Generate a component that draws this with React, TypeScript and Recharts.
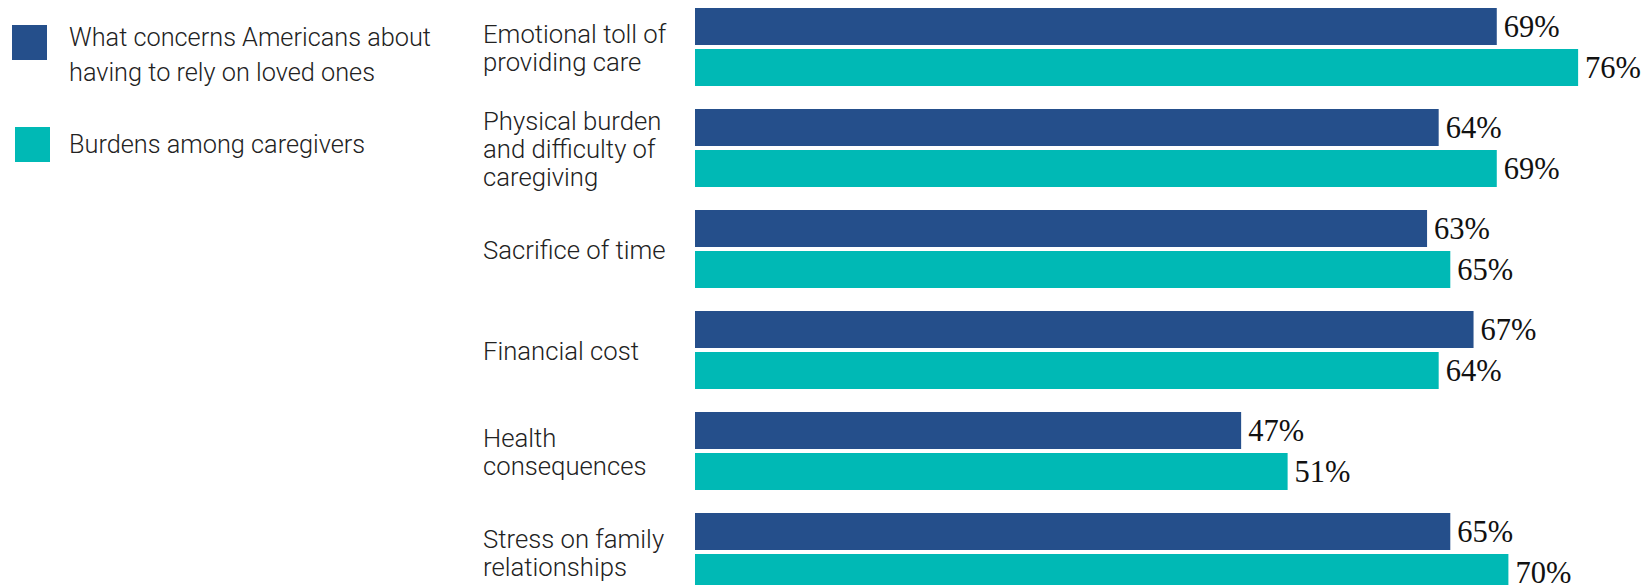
import React from "react";
import { BarChart, Bar, XAxis, YAxis, LabelList } from "recharts";

const categories = [
  "Emotional toll of providing care",
  "Physical burden and difficulty of caregiving",
  "Sacrifice of time",
  "Financial cost",
  "Health consequences",
  "Stress on family relationships",
];
const categoryLines: string[][] = [
  ["Emotional toll of", "providing care"],
  ["Physical burden", "and difficulty of", "caregiving"],
  ["Sacrifice of time"],
  ["Financial cost"],
  ["Health", "consequences"],
  ["Stress on family", "relationships"],
];
const concerns = [69, 64, 63, 67, 47, 65];
const burdens = [76, 69, 65, 64, 51, 70];
const seriesNames = [
  "What concerns Americans about having to rely on loved ones",
  "Burdens among caregivers",
];
const legendLines: string[][] = [
  ["What concerns Americans about", "having to rely on loved ones"],
  ["Burdens among caregivers"],
];

const BLUE = "#254f8b";
const TEAL = "#00b9b5";
const colors = [BLUE, TEAL];

const data = categories.map((c, i) => ({
  category: c,
  concerns: concerns[i],
  burdens: burdens[i],
}));

const CategoryTick = (props: any) => {
  const { y, index } = props;
  const lines = categoryLines[index] || [props.payload.value];
  const n = lines.length;
  return (
    <text
      x={483}
      y={y}
      textAnchor="start"
      fill="#222"
      style={{ fontFamily: "Roboto", fontWeight: 300, fontSize: 25.7 }}
    >
      {lines.map((l, i) => (
        <tspan key={i} x={483} y={y + (i - (n - 1) / 2) * 28 + 10}>
          {l}
        </tspan>
      ))}
    </text>
  );
};

const labelFmt = (v: any) => `${v}%`;
const labelStyle = { fontFamily: "Liberation Serif", fontSize: 30.5, fill: "#111" };

export default function App() {
  return (
    <div
      style={{
        position: "absolute",
        top: 0,
        left: 0,
        width: 1649,
        height: 585,
        overflow: "hidden",
        background: "#fff",
      }}
    >
      <div style={{ position: "absolute", left: 0, top: 0, width: 440 }}>
        {legendLines.map((lines, i) => (
          <div
            key={i}
            style={{
              position: "absolute",
              left: i === 0 ? 12 : 15,
              top: i === 0 ? 25 : 127,
              display: "flex",
              alignItems: "flex-start",
            }}
          >
            <div
              title={seriesNames[i]}
              style={{ width: 35, height: 35, background: colors[i], flex: "none" }}
            />
            <div
              style={{
                marginLeft: i === 0 ? 22 : 19,
                marginTop: i === 0 ? -5 : 0,
                fontFamily: "Roboto",
                fontWeight: 300,
                fontSize: 25.3,
                lineHeight: "35px",
                color: "#222",
                whiteSpace: "nowrap",
              }}
            >
              {lines.map((l, j) => (
                <div key={j}>{l}</div>
              ))}
            </div>
          </div>
        ))}
      </div>
      <div style={{ position: "absolute", left: 0, top: -4 }}>
        <BarChart
          width={1649}
          height={606}
          data={data}
          layout="vertical"
          margin={{ top: 0, right: 24.4, bottom: 0, left: 0 }}
          barGap={4}
          barSize={37}
        >
          <XAxis type="number" domain={[0, 80]} hide />
          <YAxis
            type="category"
            dataKey="category"
            width={695}
            axisLine={false}
            tickLine={false}
            tick={<CategoryTick />}
            interval={0}
          />
          <Bar dataKey="concerns" name={seriesNames[0]} fill={BLUE} isAnimationActive={false}>
            <LabelList
              dataKey="concerns"
              position="right"
              offset={7}
              formatter={labelFmt}
              style={labelStyle}
            />
          </Bar>
          <Bar dataKey="burdens" name={seriesNames[1]} fill={TEAL} isAnimationActive={false}>
            <LabelList
              dataKey="burdens"
              position="right"
              offset={7}
              formatter={labelFmt}
              style={labelStyle}
            />
          </Bar>
        </BarChart>
      </div>
    </div>
  );
}
